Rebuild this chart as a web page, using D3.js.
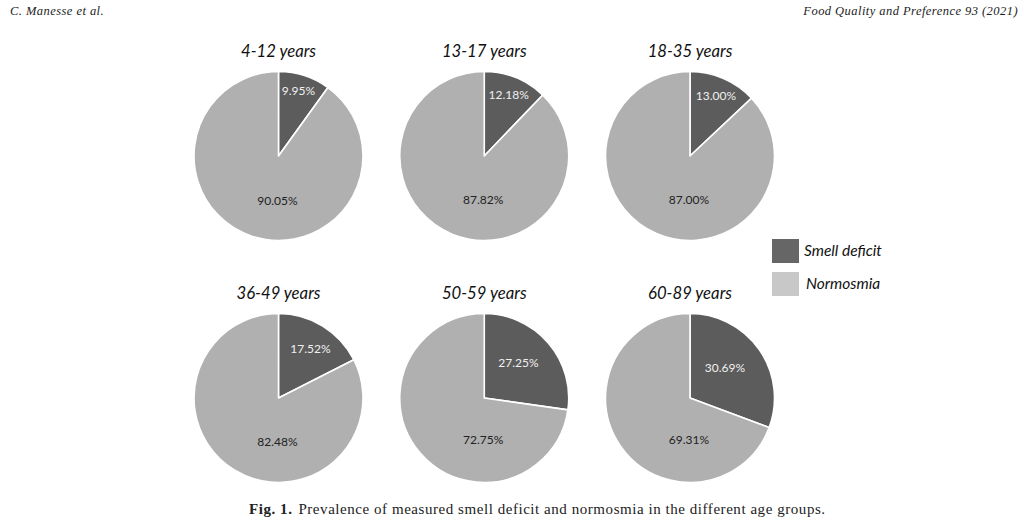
<!DOCTYPE html>
<html>
<head>
<meta charset="utf-8">
<script src="https://cdn.jsdelivr.net/npm/d3@7"></script>
<style>
  html, body { margin: 0; padding: 0; background: #fff; overflow: hidden; }
  svg { display: block; }
  .serif { font-family: "Liberation Serif", "DejaVu Serif", serif; fill: #222; }
  .sans { font-family: Lato, "Open Sans", sans-serif; }
</style>
</head>
<body>
<div id="chart"></div>
<script>
// Data
const ageGroups = ["4-12 years", "13-17 years", "18-35 years", "36-49 years", "50-59 years", "60-89 years"];
const smellDeficit = [9.95, 12.18, 13.00, 17.52, 27.25, 30.69];
const normosmia = [90.05, 87.82, 87.00, 82.48, 72.75, 69.31];
const legendLabels = ["Smell deficit", "Normosmia"];

const width = 1024;
const height = 528;
const radius = 84.5;

const svg = d3.select("#chart").append("svg")
  .attr("width", width)
  .attr("height", height);

// Page header and caption
svg.append("text").attr("class", "serif")
  .attr("x", 10).attr("y", 15)
  .style("font-size", "12.5px").style("font-style", "italic")
  .style("letter-spacing", "0.45px")
  .text("C. Manesse et al.");

svg.append("text").attr("class", "serif")
  .attr("x", 1018).attr("y", 15)
  .attr("text-anchor", "end")
  .style("font-size", "12.5px").style("font-style", "italic")
  .style("letter-spacing", "0.45px")
  .text("Food Quality and Preference 93 (2021)");

const caption = svg.append("text").attr("class", "serif")
  .attr("x", 249).attr("y", 514)
  .style("font-size", "15px")
  .style("letter-spacing", "0.55px");
caption.append("tspan").style("font-weight", "bold").text("Fig. 1.");
caption.append("tspan").attr("dx", 6).text("Prevalence of measured smell deficit and normosmia in the different age groups.");

// Small multiples layout
const xPos = d3.scalePoint().domain([0, 1, 2]).range([278.5, 690]);
const yPos = d3.scalePoint().domain([0, 1]).range([156, 398]);

const color = d3.scaleOrdinal().domain(["deficit", "normal"]).range(["#5c5c5c", "#b0b0b0"]);
const labelColor = d3.scaleOrdinal().domain(["deficit", "normal"]).range(["#f0f0f0", "#222222"]);

// label offsets from the pie centre drift with slice size
const deficitLabelX = d3.scaleLinear().domain([9.95, 13, 17.52, 30.69]).range([20, 26, 32, 35]);
const deficitLabelY = d3.scaleLinear().domain([9.95, 13, 17.52, 30.69]).range([-65, -60, -49, -30]);
const normalLabelY = d3.scaleLinear().domain([69.31, 90.05]).range([41.5, 44.5]);

const pie = d3.pie().sort(null).value(d => d.value);
const arc = d3.arc().innerRadius(0).outerRadius(radius);

ageGroups.forEach((name, i) => {
  const slices = [
    { key: "deficit", value: smellDeficit[i] },
    { key: "normal", value: normosmia[i] }
  ];

  const g = svg.append("g")
    .attr("transform", `translate(${xPos(i % 3)},${yPos(Math.floor(i / 3))})`);

  g.selectAll("path")
    .data(pie(slices))
    .join("path")
    .attr("d", arc)
    .attr("fill", d => color(d.data.key))
    .attr("stroke", "#fff")
    .attr("stroke-width", 1.6)
    .attr("stroke-linejoin", "round");

  g.selectAll("text.pct")
    .data(pie(slices))
    .join("text")
    .attr("class", "pct sans")
    .attr("transform", d => d.data.key === "deficit"
      ? `translate(${deficitLabelX(d.data.value)},${deficitLabelY(d.data.value)})`
      : `translate(-1,${normalLabelY(d.data.value)})`)
    .attr("text-anchor", "middle")
    .attr("dy", "0.35em")
    .attr("fill", d => labelColor(d.data.key))
    .style("font-size", "12px")
    .text(d => d.data.value.toFixed(2) + "%");

  g.append("text")
    .attr("class", "sans")
    .attr("x", 0)
    .attr("y", -99.5)
    .attr("text-anchor", "middle")
    .attr("fill", "#111")
    .style("font-size", "16.7px")
    .style("font-style", "italic")
    .text(name);
});

// Legend
const legendY = d3.scalePoint().domain(legendLabels).range([239, 272]);
const legendX = d3.scaleOrdinal().domain(legendLabels).range([32, 34]);
const legendFill = d3.scaleOrdinal().domain(legendLabels).range(["#666666", "#c8c8c8"]);

const legend = svg.append("g").selectAll("g")
  .data(legendLabels)
  .join("g")
  .attr("transform", d => `translate(772,${legendY(d)})`);

legend.append("rect")
  .attr("width", 27)
  .attr("height", 24)
  .attr("fill", d => legendFill(d));

legend.append("text")
  .attr("class", "sans")
  .attr("x", d => legendX(d))
  .attr("y", 12)
  .attr("dy", "0.35em")
  .attr("fill", "#111")
  .style("font-size", "15.5px")
  .style("font-style", "italic")
  .text(d => d);
</script>
</body>
</html>
